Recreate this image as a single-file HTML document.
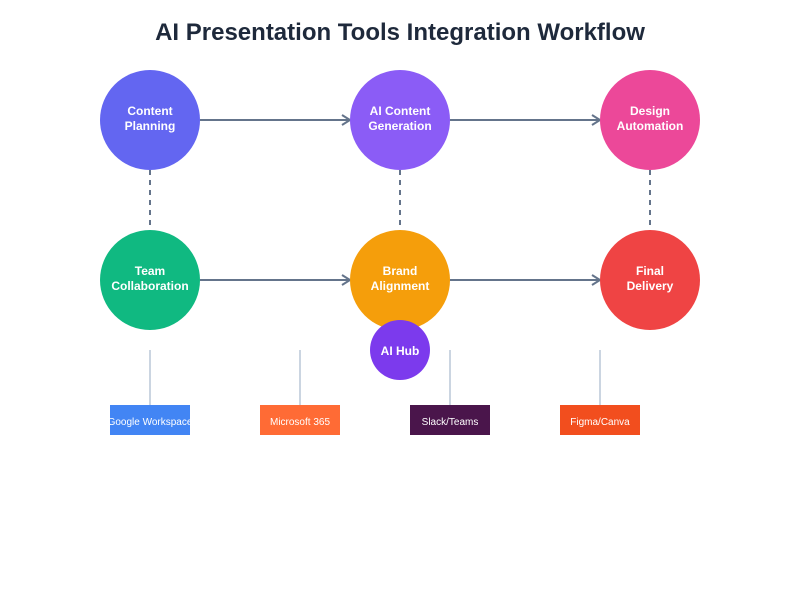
<!DOCTYPE html>
<html><head><style>body{margin:0;background:#fff}svg{display:block}</style></head><body>
<svg width="800" height="600" viewBox="0 0 800 600" xmlns="http://www.w3.org/2000/svg" font-family="Liberation Sans, sans-serif">
<rect width="800" height="600" fill="#fff"/>
<text x="400" y="40" text-anchor="middle" font-size="24" font-weight="bold" fill="#1e293b">AI Presentation Tools Integration Workflow</text>
<g stroke="#64748b" stroke-width="2" fill="none">
<line x1="200" y1="120" x2="350" y2="120"/><polyline points="342,115 350,120 342,125"/>
<line x1="450" y1="120" x2="600" y2="120"/><polyline points="592,115 600,120 592,125"/>
<line x1="200" y1="280" x2="350" y2="280"/><polyline points="342,275 350,280 342,285"/>
<line x1="450" y1="280" x2="600" y2="280"/><polyline points="592,275 600,280 592,285"/>
<g stroke-dasharray="5,5"><line x1="150" y1="170" x2="150" y2="230"/><line x1="400" y1="170" x2="400" y2="230"/><line x1="650" y1="170" x2="650" y2="230"/></g>
</g>
<g stroke="#cbd5e1" stroke-width="2"><line x1="150" y1="350" x2="150" y2="405"/><line x1="300" y1="350" x2="300" y2="405"/><line x1="450" y1="350" x2="450" y2="405"/><line x1="600" y1="350" x2="600" y2="405"/></g>
<circle cx="150" cy="120" r="50" fill="#6366f1"/>
<circle cx="400" cy="120" r="50" fill="#8b5cf6"/>
<circle cx="650" cy="120" r="50" fill="#ec4899"/>
<circle cx="150" cy="280" r="50" fill="#10b981"/>
<circle cx="400" cy="280" r="50" fill="#f59e0b"/>
<circle cx="650" cy="280" r="50" fill="#ef4444"/>
<circle cx="400" cy="350" r="30" fill="#7c3aed"/>
<g fill="#fff" font-size="12" font-weight="bold" text-anchor="middle">
<text x="150" y="115">Content</text><text x="150" y="130">Planning</text>
<text x="400" y="115">AI Content</text><text x="400" y="130">Generation</text>
<text x="650" y="115">Design</text><text x="650" y="130">Automation</text>
<text x="150" y="275">Team</text><text x="150" y="290">Collaboration</text>
<text x="400" y="275">Brand</text><text x="400" y="290">Alignment</text>
<text x="650" y="275">Final</text><text x="650" y="290">Delivery</text>
<text x="400" y="355">AI Hub</text>
</g>
<rect x="110" y="405" width="80" height="30" fill="#4285f4"/>
<rect x="260" y="405" width="80" height="30" fill="#ff6b35"/>
<rect x="410" y="405" width="80" height="30" fill="#4a154b"/>
<rect x="560" y="405" width="80" height="30" fill="#f24e1e"/>
<g fill="#fff" font-size="10" text-anchor="middle">
<text x="150" y="425">Google Workspace</text>
<text x="300" y="425">Microsoft 365</text>
<text x="450" y="425">Slack/Teams</text>
<text x="600" y="425">Figma/Canva</text>
</g>
</svg>
</body></html>
